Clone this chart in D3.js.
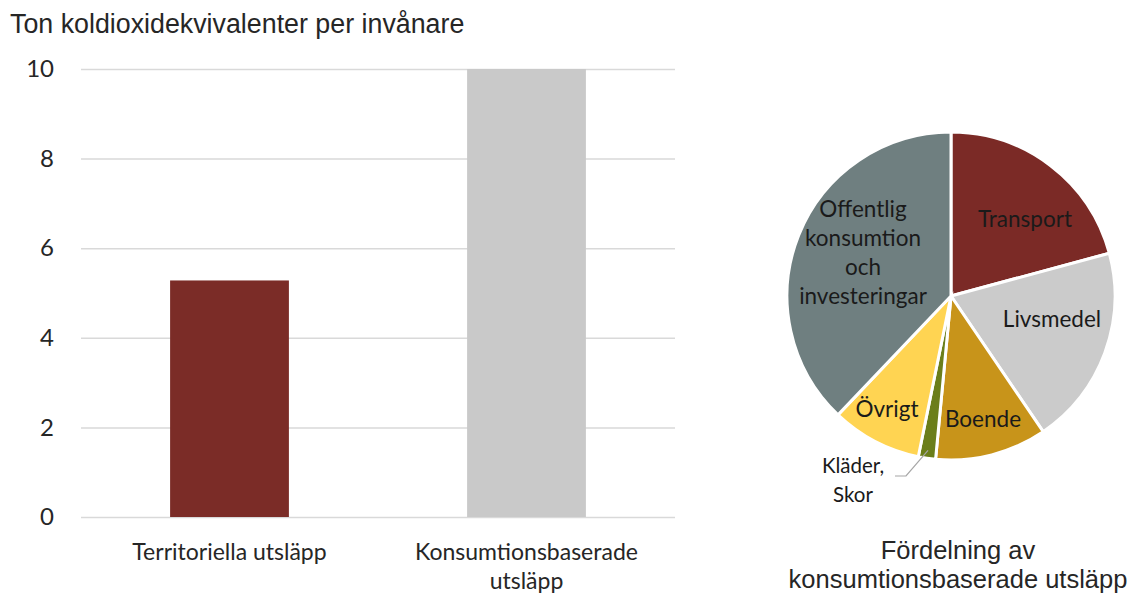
<!DOCTYPE html>
<html><head><meta charset="utf-8">
<script src="https://cdn.jsdelivr.net/npm/d3@7"></script>
<style>body{margin:0;background:#fff}</style>
</head><body>
<svg id="c" width="1137" height="596"></svg>
<script>
const barCategories = [["Territoriella utsläpp"], ["Konsumtionsbaserade", "utsläpp"]];
const barValues = [5.28, 10.0];
const barColors = ["#7B2C27", "#C9C9C9"];
const yTicks = [0, 2, 4, 6, 8, 10];
const yTitle = "Ton koldioxidekvivalenter per invånare";

const pieLabels = ["Transport", "Livsmedel", "Boende", "Kläder, Skor", "Övrigt", "Offentlig konsumtion och investeringar"];
const pieValues = [20.8, 19.7, 11.0, 1.7, 8.9, 37.9];
const pieColors = ["#7B2A26", "#CBCBCB", "#C8941A", "#6B7E1A", "#FFD452", "#6F7F80"];
const pieTitle = ["Fördelning av", "konsumtionsbaserade utsläpp"];

const svg = d3.select("#c");
const calibri = "Lato, 'Open Sans', sans-serif";
const arial = "'Liberation Sans', Arial, sans-serif";

// Bar chart
const x = d3.scaleBand().domain(d3.range(barValues.length)).range([81, 675]).paddingInner(0.6).paddingOuter(0.3);
const y = d3.scaleLinear().domain([0, 10]).range([517, 69]);

svg.append("text").attr("x", 10).attr("y", 33).attr("font-family", arial).attr("font-size", 26.8)
  .attr("fill", "#262626").text(yTitle);

const yAxis = d3.axisLeft(y).tickValues(yTicks).tickSize(-(675 - 81)).tickPadding(27);
const gy = svg.append("g").attr("transform", "translate(81,0)").call(yAxis);
gy.select(".domain").remove();
gy.selectAll(".tick line").attr("stroke", "#D9D9D9").attr("stroke-width", 1.5);
gy.selectAll(".tick text").attr("font-family", calibri).attr("font-size", 24).attr("fill", "#262626");

svg.selectAll("rect.bar").data(barValues).join("rect").attr("class", "bar")
  .attr("x", (d, i) => x(i)).attr("width", x.bandwidth())
  .attr("y", d => y(d)).attr("height", d => y(0) - y(d))
  .attr("fill", (d, i) => barColors[i]);

barCategories.forEach((lines, i) => {
  const t = svg.append("text").attr("text-anchor", "middle").attr("font-family", calibri)
    .attr("font-size", 23).attr("fill", "#262626");
  lines.forEach((l, j) => t.append("tspan").attr("x", x(i) + x.bandwidth() / 2).attr("y", 560 + j * 29).text(l));
});

// Pie
const cx = 951, cy = 296, R = 164;
const pie = d3.pie().sort(null).value(d => d)(pieValues);
const arc = d3.arc().innerRadius(0).outerRadius(R);
const gp = svg.append("g").attr("transform", `translate(${cx},${cy})`);
gp.selectAll("path").data(pie).join("path").attr("d", arc)
  .attr("fill", (d, i) => pieColors[i]).attr("stroke", "#fff").attr("stroke-width", 3);

const labelPos = [
  {x: 74, y: -69, lines: ["Transport"]},
  {x: 101, y: 31, lines: ["Livsmedel"]},
  {x: 32, y: 131, lines: ["Boende"]},
  {x: -64, y: 121, lines: ["Övrigt"]},
  {x: -88, y: -79, lines: ["Offentlig", "konsumtion", "och", "investeringar"]}
];
const labelIdx = [0, 1, 2, 4, 5];
labelIdx.forEach((k, n) => {
  const p = labelPos[n];
  const t = gp.append("text").attr("text-anchor", "middle").attr("font-family", calibri)
    .attr("font-size", 22.5).attr("fill", "#1a1a1a");
  p.lines.forEach((l, j) => t.append("tspan").attr("x", p.x).attr("y", p.y + j * 29).text(l));
});
// Kläder, Skor label with leader line
const kl = pieLabels[3].split(" ");
const kt = gp.append("text").attr("text-anchor", "middle").attr("font-family", calibri)
  .attr("font-size", 20.5).attr("fill", "#1a1a1a");
kl.forEach((l, j) => kt.append("tspan").attr("x", -98).attr("y", 177 + j * 29).text(l));
const mid = (pie[3].startAngle + pie[3].endAngle) / 2;
const kEdge = [Math.sin(mid) * (R - 8), -Math.cos(mid) * (R - 8)];
gp.append("path").attr("d", d3.line()([[-56, 180], [-45, 180], [kEdge[0], kEdge[1]]]))
  .attr("fill", "none").attr("stroke", "#A6A6A6").attr("stroke-width", 1.2);

const tt = svg.append("text").attr("text-anchor", "middle").attr("font-family", arial)
  .attr("font-size", 25.5).attr("fill", "#262626");
pieTitle.forEach((l, j) => tt.append("tspan").attr("x", 958).attr("y", 559 + j * 29).text(l));
</script>
</body></html>
